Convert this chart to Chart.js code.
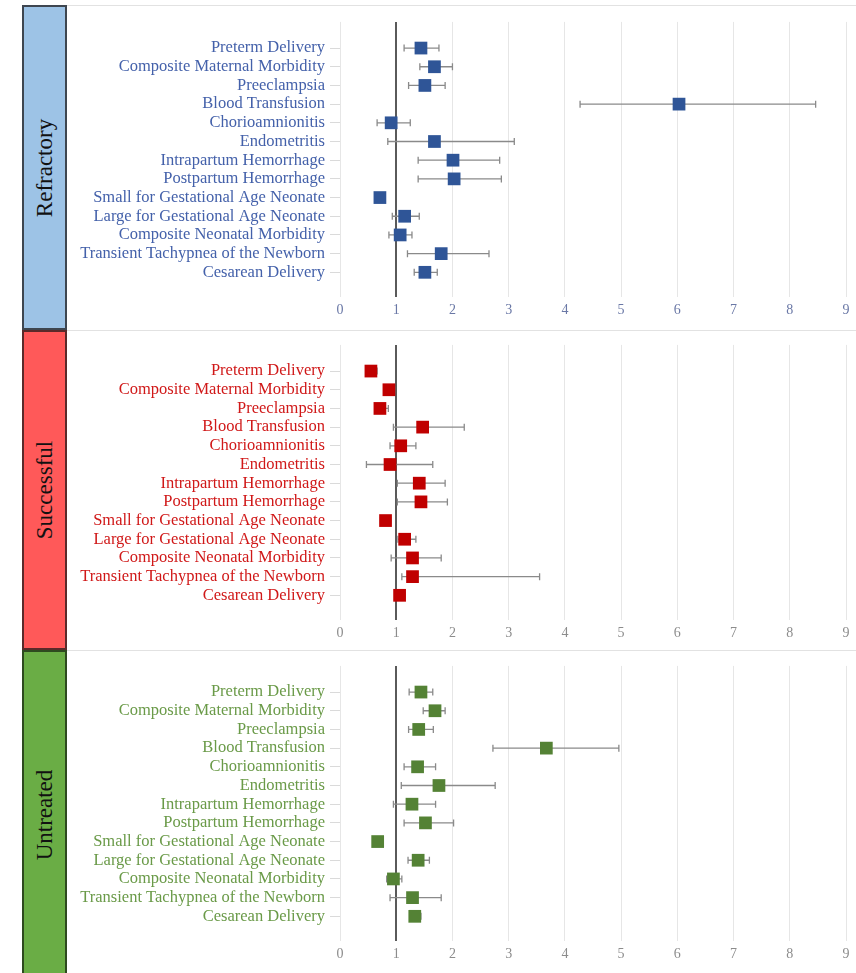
<!DOCTYPE html>
<html>
<head>
<meta charset="utf-8">
<script src="https://cdn.jsdelivr.net/npm/chart.js@4.4.0/dist/chart.umd.min.js"></script>
<style>
  html, body { margin: 0; padding: 0; background: #fff; }
  body { width: 856px; height: 973px; position: relative; overflow: hidden; font-family: 'Liberation Serif', 'Times New Roman', serif; }
  .sep { position: absolute; left: 67px; width: 789px; height: 1px; background: #E2E2E2; }
  .side { position: absolute; left: 22px; width: 41px; border: 2px solid #404040; }
  .side span { position: absolute; left: 50%; top: 50%; transform: translate(-50%, -50%) rotate(-90deg); font-size: 23px; color: #111; white-space: nowrap; }
  .panel { position: absolute; left: 67px; }
</style>
</head>
<body>
<div class="sep" style="top:5px"></div>
<div class="sep" style="top:330px"></div>
<div class="sep" style="top:650px"></div>

<div class="side" style="top:5px;height:321px;background:#9DC3E6;border-color:#3E4650;"><span>Refractory</span></div>
<div class="side" style="top:330px;height:316px;background:#FF5959;border-color:#5A2A2A;"><span>Successful</span></div>
<div class="side" style="top:650px;height:326px;background:#6AAD45;border-color:#2E4A1F;"><span>Untreated</span></div>

<canvas id="refractory" class="panel" width="789" height="320" style="top:7px"></canvas>
<canvas id="successful" class="panel" width="789" height="320" style="top:330px"></canvas>
<canvas id="untreated" class="panel" width="789" height="320" style="top:651px"></canvas>

<script>
// Outcomes listed top to bottom in every panel
const outcomes = [
  'Preterm Delivery',
  'Composite Maternal Morbidity',
  'Preeclampsia',
  'Blood Transfusion',
  'Chorioamnionitis',
  'Endometritis',
  'Intrapartum Hemorrhage',
  'Postpartum Hemorrhage',
  'Small for Gestational Age Neonate',
  'Large for Gestational Age Neonate',
  'Composite Neonatal Morbidity',
  'Transient Tachypnea of the Newborn',
  'Cesarean Delivery'
];

// Odds ratios with lower / upper confidence limits
const refractoryOR    = [1.44, 1.68, 1.51, 6.03, 0.91, 1.68, 2.01, 2.03, 0.71, 1.15, 1.07, 1.80, 1.51];
const refractoryLower = [1.14, 1.42, 1.22, 4.27, 0.66, 0.85, 1.39, 1.39, 0.63, 0.93, 0.87, 1.20, 1.32];
const refractoryUpper = [1.76, 2.00, 1.87, 8.46, 1.25, 3.10, 2.84, 2.87, 0.80, 1.41, 1.28, 2.65, 1.73];

const successfulOR    = [0.55, 0.87, 0.71, 1.47, 1.08, 0.89, 1.41, 1.44, 0.81, 1.15, 1.29, 1.29, 1.06];
const successfulLower = [0.47, 0.78, 0.62, 0.95, 0.89, 0.47, 1.02, 1.02, 0.72, 1.03, 0.91, 1.10, 0.98];
const successfulUpper = [0.66, 0.97, 0.86, 2.21, 1.35, 1.65, 1.87, 1.91, 0.90, 1.35, 1.80, 3.55, 1.15];

const untreatedOR     = [1.44, 1.69, 1.40, 3.67, 1.38, 1.76, 1.28, 1.52, 0.67, 1.39, 0.95, 1.29, 1.33];
const untreatedLower  = [1.23, 1.48, 1.22, 2.72, 1.14, 1.09, 0.95, 1.14, 0.60, 1.21, 0.83, 0.89, 1.24];
const untreatedUpper  = [1.65, 1.87, 1.66, 4.96, 1.70, 2.76, 1.70, 2.02, 0.75, 1.59, 1.10, 1.80, 1.44];

const xMin = 0, xMax = 9;

// Confidence-interval whiskers with end caps, drawn beneath the markers
const whiskerPlugin = {
  id: 'whiskers',
  beforeDatasetsDraw(chart, args, opts) {
    const { ctx, scales: { x, y } } = chart;
    ctx.save();
    ctx.strokeStyle = opts.color;
    ctx.lineWidth = 1.3;
    opts.lower.forEach((lo, i) => {
      const py = y.getPixelForValue(i + 1);
      const x0 = x.getPixelForValue(lo);
      const x1 = x.getPixelForValue(opts.upper[i]);
      ctx.beginPath();
      ctx.moveTo(x0, py); ctx.lineTo(x1, py);
      ctx.moveTo(x0, py - 3.5); ctx.lineTo(x0, py + 3.5);
      ctx.moveTo(x1, py - 3.5); ctx.lineTo(x1, py + 3.5);
      ctx.stroke();
    });
    ctx.restore();
  }
};

function forestPanel(id, or, lower, upper, markerColor, labelColor, tickColor) {
  return new Chart(document.getElementById(id), {
    type: 'scatter',
    data: {
      datasets: [{
        data: or.map((v, i) => ({ x: v, y: i + 1 })),
        pointStyle: 'rect',
        pointRadius: 9,
        backgroundColor: markerColor,
        borderColor: markerColor,
        borderWidth: 0
      }]
    },
    options: {
      responsive: false,
      animation: false,
      events: [],
      layout: { padding: { top: 13, right: 10, bottom: 0, left: 0 } },
      plugins: {
        legend: { display: false },
        tooltip: { enabled: false },
        whiskers: { lower, upper, color: '#8A8A8A' }
      },
      scales: {
        x: {
          type: 'linear',
          min: xMin,
          max: xMax,
          ticks: { stepSize: 1, color: tickColor, padding: 5, font: { family: "'Liberation Serif', serif", size: 14 } },
          grid: {
            color: c => (c.tick && c.tick.value === 1) ? '#5A5A5A' : '#E6E6E6',
            lineWidth: c => (c.tick && c.tick.value === 1) ? 2 : 1,
            tickLength: 6
          },
          border: { display: false },
          afterFit(s) { s.height = 36; }
        },
        y: {
          type: 'linear',
          reverse: true,
          min: -0.4,
          max: 14,
          afterBuildTicks(s) { s.ticks = outcomes.map((_, i) => ({ value: i + 1 })); },
          ticks: {
            autoSkip: false,
            callback: v => outcomes[v - 1] ?? '',
            color: labelColor,
            padding: 5,
            font: { family: "'Liberation Serif', serif", size: 16.5 }
          },
          grid: { drawOnChartArea: false, tickLength: 10, color: '#DADADA' },
          border: { display: false },
          afterFit(s) { s.width = 273; }
        }
      }
    },
    plugins: [whiskerPlugin]
  });
}

forestPanel('refractory', refractoryOR, refractoryLower, refractoryUpper, '#2F5597', '#4461AA', '#6A78A6');
forestPanel('successful', successfulOR, successfulLower, successfulUpper, '#C00000', '#D01818', '#8C8C8C');
forestPanel('untreated', untreatedOR, untreatedLower, untreatedUpper, '#548235', '#6A9A48', '#8C8C8C');
</script>
</body>
</html>
